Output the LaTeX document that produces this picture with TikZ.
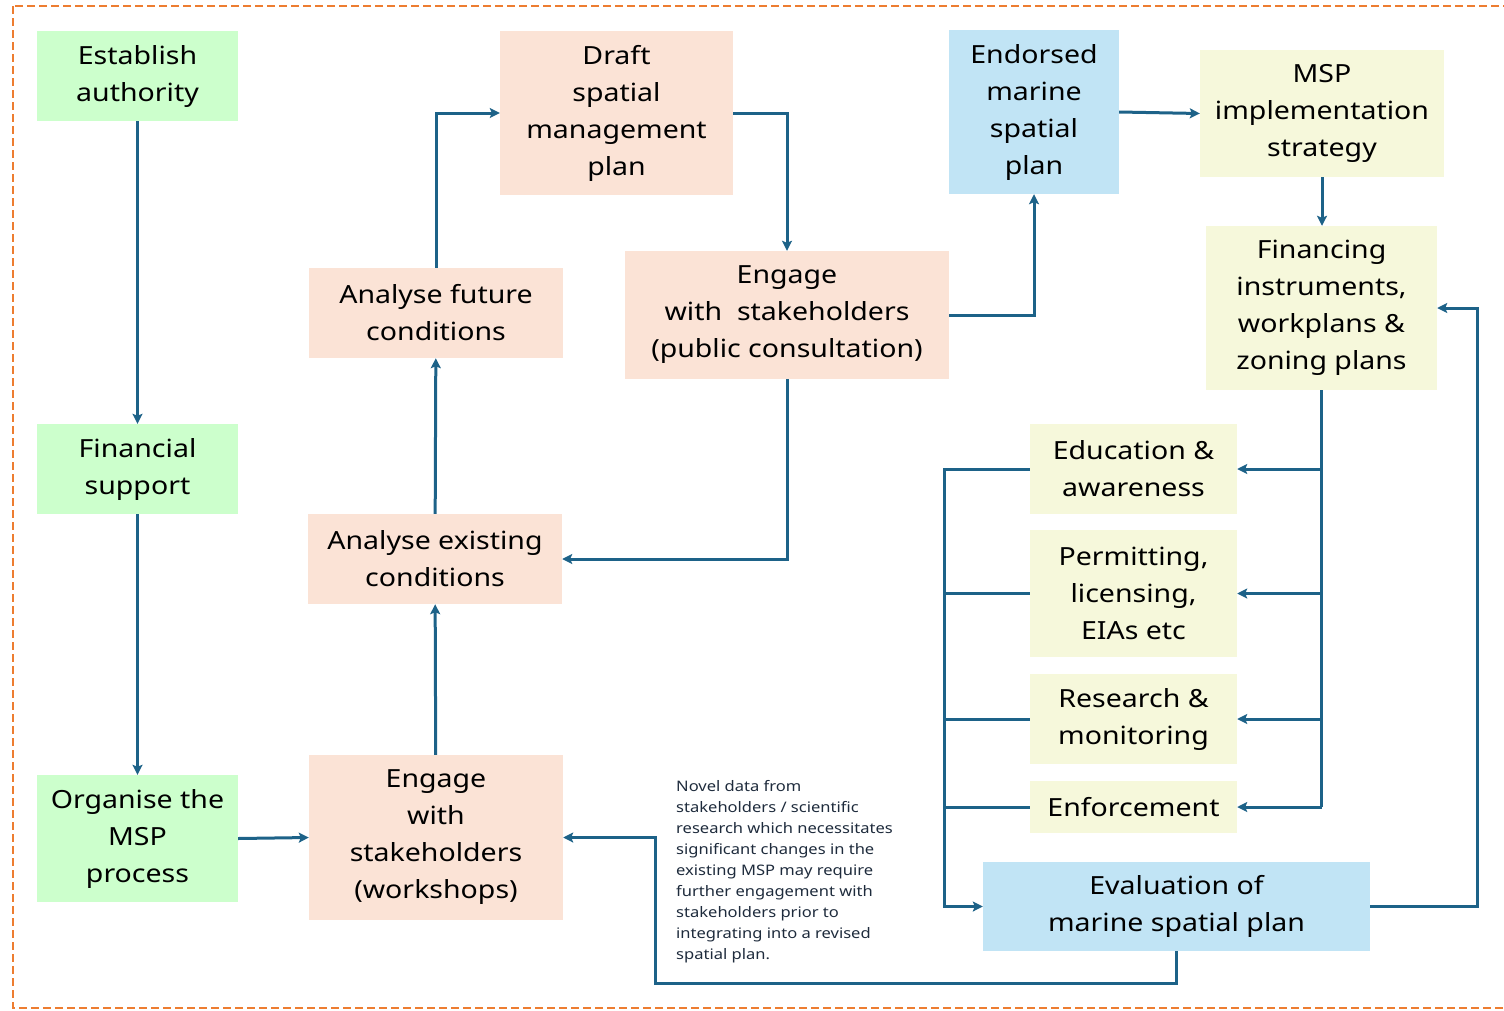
\documentclass[tikz,border=0pt]{standalone}
\usepackage{fontspec}
\setmainfont{Noto Sans}[FakeStretch=1.14]
\usetikzlibrary{arrows.meta}
\definecolor{gfill}{HTML}{CCFFCC}
\definecolor{pfill}{HTML}{FBE3D6}
\definecolor{bfill}{HTML}{C1E4F5}
\definecolor{yfill}{HTML}{F6F8DB}
\definecolor{lcol}{HTML}{1D6288}
\definecolor{bord}{HTML}{ED7D31}
\definecolor{notecol}{HTML}{1E2B3C}
\begin{document}
\begin{tikzpicture}[x=1pt,y=-1pt,
  box/.style={inner sep=0pt, align=center, text=black,
    font=\fontsize{25}{37}\selectfont},
  gbox/.style={box, fill=gfill},
  pbox/.style={box, fill=pfill},
  bbox/.style={box, fill=bfill},
  ybox/.style={box, fill=yfill},
  conn/.style={draw=lcol, line width=3pt},
  arr/.style={conn, -{Stealth[length=10pt,width=10pt,inset=2pt]}},
]
\useasboundingbox (0,0) rectangle (1504,1010);
\begin{scope}
\clip (0,0) rectangle (1504,1010);
\draw[bord, line width=2.5pt, dash pattern=on 8pt off 4pt] (13,6) rectangle (1530,1008);
\end{scope}

% left column
\node[gbox, minimum width=201pt, minimum height=90pt] (est) at (137.5,76) {Establish\\authority};
\node[gbox, minimum width=201pt, minimum height=90pt] (fin) at (137.5,469) {Financial\\support};
\node[gbox, minimum width=201pt, minimum height=127pt] (org) at (137.5,838.5) {Organise the\\MSP\\process};

% peach column
\node[pbox, minimum width=254pt, minimum height=165pt] (ews) at (436,837.5) {Engage\\with\\stakeholders\\(workshops)};
\node[pbox, minimum width=254pt, minimum height=90pt] (aex) at (435,559) {Analyse existing\\conditions};
\node[pbox, minimum width=254pt, minimum height=90pt] (afu) at (436,313) {Analyse future\\conditions};
\node[pbox, minimum width=233pt, minimum height=164pt] (draft) at (616.5,113) {Draft\\spatial\\management\\plan};
\node[pbox, minimum width=324pt, minimum height=128pt] (epc) at (787,315) {Engage\\with~~stakeholders\\(public consultation)};

% right part
\node[bbox, minimum width=170pt, minimum height=164pt] (endo) at (1034,112) {Endorsed\\marine\\spatial\\plan};
\node[ybox, minimum width=244pt, minimum height=127pt] (impl) at (1322,113.5) {MSP\\implementation\\strategy};
\node[ybox, minimum width=231pt, minimum height=164pt] (fi) at (1321.5,308) {Financing\\instruments,\\workplans \&\\zoning plans};
\node[ybox, minimum width=207pt, minimum height=90pt] (edu) at (1133.5,469) {Education \&\\awareness};
\node[ybox, minimum width=207pt, minimum height=127pt] (per) at (1133.5,593.5) {Permitting,\\licensing,\\EIAs etc};
\node[ybox, minimum width=207pt, minimum height=90pt] (res) at (1133.5,719) {Research \&\\monitoring};
\node[ybox, minimum width=207pt, minimum height=52pt] (enf) at (1133.5,807) {Enforcement};
\node[bbox, minimum width=387pt, minimum height=89pt] (eval) at (1176.5,906.5) {Evaluation of\\marine spatial plan};

% note
\node[anchor=north west, inner sep=0pt, align=left, text=notecol,
  font=\fontsize{14.5}{21}\selectfont] (note) at (676,780)
  {Novel data from\\stakeholders / scientific\\research which necessitates\\significant changes in the\\existing MSP may require\\further engagement with\\stakeholders prior to\\integrating into a revised\\spatial plan.};

% coordinates
\coordinate (busx) at (944,0);
\coordinate (rx) at (1477,0);
\coordinate (bl) at (655,983);

% connectors
\draw[arr] (est) -- (fin);
\draw[arr] (fin) -- (org);
\draw[arr] (org.east) -- (ews.west);
\draw[arr] (ews) -- (aex);
\draw[arr] (aex) -- (afu);
\draw[arr] (afu.north) |- (draft.west);
\draw[arr] (draft.east) -| (epc.north);
\draw[arr] (epc.south) |- (aex.east);
\draw[arr] (epc.east) -| (endo.south);
\draw[arr] (endo.east) -- (impl.west);
\draw[arr] (impl.south) -- (impl.south |- fi.north);

\draw[conn] (fi.south) -- (fi.south |- enf.east);
\draw[arr] (fi.south |- edu.east) -- (edu.east);
\draw[arr] (fi.south |- per.east) -- (per.east);
\draw[arr] (fi.south |- res.east) -- (res.east);
\draw[arr] (fi.south |- enf.east) -- (enf.east);

\draw[arr] (edu.west) -- (edu.west -| busx) |- (eval.west);
\draw[conn] (per.west) -- (per.west -| busx);
\draw[conn] (res.west) -- (res.west -| busx);
\draw[conn] (enf.west) -- (enf.west -| busx);

\draw[arr] (eval.east) -- (eval.east -| rx) |- (fi.east);
\draw[arr] (eval.south) |- (bl) |- (ews.east);
\end{tikzpicture}
\end{document}
